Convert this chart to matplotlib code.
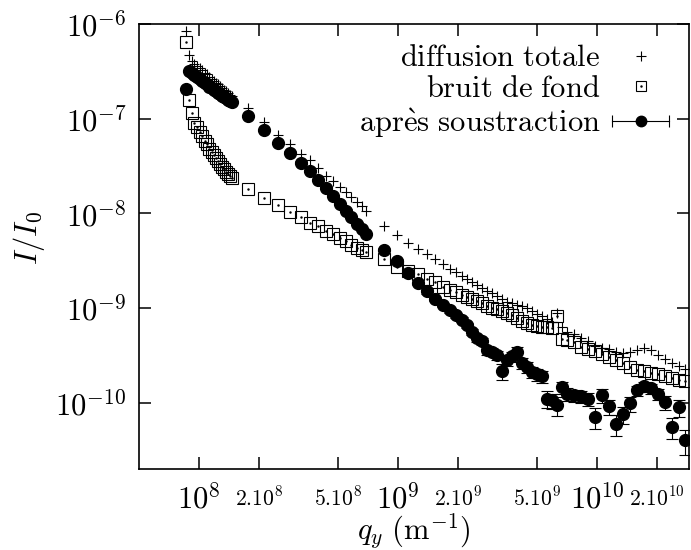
import matplotlib
matplotlib.use('Agg')
import numpy as np
import matplotlib.pyplot as plt
from matplotlib.lines import Line2D
from matplotlib.legend_handler import HandlerLine2D, HandlerTuple
from matplotlib.ticker import NullLocator

plt.rcParams['mathtext.fontset'] = 'cm'
plt.rcParams['font.family'] = ['serif']
plt.rcParams['font.serif'] = ['cmr10', 'DejaVu Serif']

# ---------------- data ----------------
q_y = [
    0.86e8, 0.89e8, 0.92e8, 0.95e8, 0.98e8, 1.01e8, 1.04e8, 1.07e8, 1.10e8, 1.13e8,
    1.16e8, 1.19e8, 1.22e8, 1.25e8, 1.28e8, 1.31e8, 1.34e8, 1.37e8, 1.40e8, 1.43e8, 1.46e8,
    1.76e8, 2.13e8, 2.50e8, 2.87e8, 3.24e8, 3.61e8, 3.98e8, 4.35e8, 4.72e8, 5.09e8,
    5.46e8, 5.83e8, 6.20e8, 6.57e8, 6.94e8,
    8.50e8, 9.89e8, 1.123e9, 1.260e9, 1.398e9, 1.534e9, 1.683e9, 1.825e9, 1.956e9, 2.097e9,
    2.222e9, 2.354e9, 2.495e9, 2.643e9, 2.801e9, 2.968e9, 3.144e9, 3.332e9, 3.530e9, 3.741e9,
    3.963e9, 4.199e9, 4.449e9, 4.715e9, 4.995e9, 5.292e9, 5.607e9, 5.941e9, 6.295e9, 6.670e9,
    7.067e9, 7.662e9, 8.310e9, 9.012e9, 9.770e9, 1.060e10, 1.149e10, 1.246e10, 1.351e10, 1.465e10,
    1.589e10, 1.723e10, 1.868e10, 2.026e10, 2.197e10, 2.382e10, 2.583e10, 2.768e10,
]

diffusion_totale = [
    8.43e-7, 4.70e-7, 4.06e-7, 3.82e-7, 3.64e-7, 3.43e-7, 3.26e-7, 3.07e-7, 2.93e-7, 2.75e-7,
    2.65e-7, 2.53e-7, 2.41e-7, 2.32e-7, 2.21e-7, 2.11e-7, 2.03e-7, 1.96e-7, 1.87e-7, 1.80e-7, 1.73e-7,
    1.285e-7, 9.27e-8, 6.71e-8, 5.39e-8, 4.28e-8, 3.65e-8, 3.00e-8, 2.50e-8, 2.19e-8, 1.89e-8,
    1.68e-8, 1.50e-8, 1.33e-8, 1.19e-8, 1.055e-8,
    7.32e-9, 5.88e-9, 4.90e-9, 4.18e-9, 3.70e-9, 3.28e-9, 2.90e-9, 2.60e-9, 2.39e-9, 2.17e-9,
    2.02e-9, 1.87e-9, 1.74e-9, 1.62e-9, 1.52e-9, 1.43e-9, 1.35e-9, 1.25e-9, 1.166e-9, 1.124e-9,
    1.084e-9, 1.045e-9, 9.95e-10, 9.25e-10, 8.60e-10, 8.19e-10, 7.71e-10, 7.08e-10, 8.88e-10, 6.27e-10,
    5.62e-10, 5.28e-10, 4.85e-10, 4.46e-10, 4.00e-10, 3.80e-10, 3.67e-10, 3.45e-10, 3.33e-10, 3.45e-10,
    3.58e-10, 3.80e-10, 3.58e-10, 3.17e-10, 2.88e-10, 2.64e-10, 2.43e-10, 2.25e-10,
]

bruit_de_fond = [
    6.45e-7, 1.57e-7, 1.15e-7, 8.98e-8, 8.15e-8, 7.22e-8, 6.55e-8, 5.80e-8, 5.39e-8, 4.77e-8,
    4.44e-8, 4.12e-8, 3.83e-8, 3.56e-8, 3.31e-8, 3.12e-8, 2.93e-8, 2.76e-8, 2.60e-8, 2.47e-8, 2.36e-8,
    1.80e-8, 1.465e-8, 1.22e-8, 1.037e-8, 9.18e-9, 8.01e-9, 7.32e-9, 6.53e-9, 6.03e-9, 5.53e-9,
    5.08e-9, 4.61e-9, 4.32e-9, 4.08e-9, 3.92e-9,
    3.32e-9, 2.70e-9, 2.45e-9, 2.28e-9, 2.04e-9, 1.87e-9, 1.68e-9, 1.56e-9, 1.47e-9, 1.37e-9,
    1.30e-9, 1.24e-9, 1.19e-9, 1.14e-9, 1.045e-9, 1.007e-9, 9.83e-10, 9.36e-10, 8.92e-10, 8.39e-10,
    7.90e-10, 7.34e-10, 7.00e-10, 6.66e-10, 6.42e-10, 6.34e-10, 6.27e-10, 6.12e-10, 8.25e-10, 4.68e-10,
    4.62e-10, 4.35e-10, 3.90e-10, 3.71e-10, 3.49e-10, 3.29e-10, 3.06e-10, 2.84e-10, 2.61e-10, 2.40e-10,
    2.23e-10, 2.15e-10, 2.07e-10, 2.00e-10, 1.92e-10, 1.81e-10, 1.75e-10, 1.72e-10,
]

apres_soustraction = [
    2.06e-7, 3.19e-7, 3.03e-7, 2.89e-7, 2.75e-7, 2.62e-7, 2.53e-7, 2.41e-7, 2.32e-7, 2.18e-7,
    2.11e-7, 2.03e-7, 1.96e-7, 1.89e-7, 1.82e-7, 1.75e-7, 1.69e-7, 1.65e-7, 1.59e-7, 1.55e-7, 1.50e-7,
    1.073e-7, 7.58e-8, 5.56e-8, 4.38e-8, 3.44e-8, 2.79e-8, 2.24e-8, 1.87e-8, 1.52e-8, 1.25e-8,
    1.068e-8, 9.12e-9, 7.82e-9, 6.89e-9, 6.03e-9,
    4.15e-9, 3.16e-9, 2.36e-9, 1.84e-9, 1.50e-9, 1.26e-9, 1.07e-9, 9.48e-10, 8.39e-10, 7.56e-10,
    6.58e-10, 5.59e-10, 4.80e-10, 4.46e-10, 3.58e-10, 3.44e-10, 3.17e-10, 2.16e-10, 2.81e-10, 3.09e-10,
    3.44e-10, 2.63e-10, 2.38e-10, 2.11e-10, 2.00e-10, 1.90e-10, 1.105e-10, 1.06e-10, 9.39e-11, 1.455e-10,
    1.24e-10, 1.197e-10, 1.17e-10, 1.10e-10, 7.01e-11, 1.197e-10, 9.16e-11, 5.91e-11, 7.54e-11, 9.86e-11,
    1.35e-10, 1.49e-10, 1.42e-10, 1.23e-10, 1.01e-10, 5.50e-11, 8.94e-11, 4.00e-11,
]

# relative uncertainty of the subtracted signal
erreur_relative = [
    0.02, 0.02, 0.02, 0.02, 0.02, 0.02, 0.02, 0.02, 0.02, 0.02,
    0.02, 0.02, 0.02, 0.02, 0.02, 0.02, 0.02, 0.02, 0.02, 0.02, 0.02,
    0.03, 0.03, 0.03, 0.03, 0.03, 0.03, 0.03, 0.03, 0.03, 0.03,
    0.03, 0.03, 0.03, 0.03, 0.03,
    0.04, 0.04, 0.04, 0.04, 0.05, 0.05, 0.05, 0.06, 0.06, 0.06,
    0.07, 0.08, 0.08, 0.09, 0.10, 0.10, 0.10, 0.20, 0.12, 0.12,
    0.12, 0.13, 0.13, 0.13, 0.14, 0.14, 0.20, 0.18, 0.22, 0.15,
    0.15, 0.15, 0.15, 0.16, 0.25, 0.16, 0.18, 0.25, 0.20, 0.18,
    0.12, 0.12, 0.12, 0.14, 0.16, 0.25, 0.20, 0.30,
]

major_xticks = [1e8, 1e9, 1e10]
major_xlabels = [r'$10^{8}$', r'$10^{9}$', r'$10^{10}$']
minor_xticks = [2e8, 5e8, 2e9, 5e9, 2e10]
minor_xlabels = [r'$2.10^{8}$', r'$5.10^{8}$', r'$2.10^{9}$', r'$5.10^{9}$', r'$2.10^{10}$']
yticks = [1e-10, 1e-9, 1e-8, 1e-7, 1e-6]
ylabels = [r'$10^{-10}$', r'$10^{-9}$', r'$10^{-8}$', r'$10^{-7}$', r'$10^{-6}$']

labels = [r'$\mathrm{diffusion\ totale}$', r'$\mathrm{bruit\ de\ fond}$',
          r'$\mathrm{apr\grave{e}s\ soustraction}$']

# ---------------- figure ----------------
W, H = 691, 550
fig = plt.figure(figsize=(W / 100, H / 100), dpi=100)
ax = fig.add_axes([139 / W, 1 - 469 / H, 550 / W, 445 / H])
ax.set_xscale('log')
ax.set_yscale('log')

q = np.array(q_y)
tot = np.array(diffusion_totale)
bg = np.array(bruit_de_fond)
sub = np.array(apres_soustraction)
err = sub * np.array(erreur_relative)

ax.plot(q, tot, ls='none', marker='+', ms=7.5, mew=0.8, color='k', zorder=3)
ax.plot(q, bg, ls='none', marker='s', ms=8.2, mew=0.8, mfc='none', mec='k', zorder=2)
ax.plot(q, bg, ls='none', marker='.', ms=1.5, color='k', zorder=2)
ax.errorbar(q, sub, yerr=err, fmt='o', ms=8.5, color='k', ecolor='k',
            elinewidth=0.8, capsize=4.5, capthick=0.8, zorder=4)

ax.set_xlim(5e7, 2.9e10)
ax.set_ylim(2e-11, 1e-6)

ax.set_xticks(major_xticks)
ax.set_xticklabels(major_xlabels, fontsize=22)
ax.set_xticks(minor_xticks, minor=True)
ax.set_xticklabels(minor_xlabels, minor=True, fontsize=15.5)
ax.set_yticks(yticks)
ax.set_yticklabels(ylabels, fontsize=22)
ax.yaxis.set_minor_locator(NullLocator())

ax.tick_params(which='both', direction='in', length=8.6, width=1.1,
               top=True, right=True)
ax.tick_params(axis='x', which='major', pad=10)
ax.tick_params(axis='x', which='minor', pad=12)
ax.tick_params(axis='y', which='both', pad=9)
for s in ax.spines.values():
    s.set_linewidth(1.2)

ax.set_xlabel(r'$q_y\ (\mathrm{m}^{-1})$', fontsize=22)
ax.set_ylabel(r'$I/I_0$', fontsize=22)
ax.xaxis.set_label_coords(0.5, -(511 - 469) / 445)
ax.yaxis.set_label_coords(-(139 - 47) / 550, (469 - 238) / 445)

# legend
h_tot = Line2D([], [], ls='none', marker='+', ms=7, mew=0.8, color='k')
h_bg_sq = Line2D([], [], ls='none', marker='s', ms=6.5, mew=0.8, mfc='none', mec='k')
h_bg_dot = Line2D([], [], ls='none', marker='.', ms=1.5, color='k')
h_caps = Line2D([], [], color='k', lw=0.8, marker='|', ms=9, mew=0.8)
h_dot = Line2D([], [], ls='none', marker='o', ms=7.5, color='k')
leg = ax.legend([h_tot, (h_bg_sq, h_bg_dot), (h_caps, h_dot)], labels,
                loc='upper right', bbox_to_anchor=((669 - 139) / 550, (469 - 45) / 445),
                frameon=False, markerfirst=False, fontsize=22,
                handlelength=1.85, handletextpad=0.4, labelspacing=0.1,
                borderpad=0, borderaxespad=0,
                handler_map={h_caps: HandlerLine2D(numpoints=2, marker_pad=0),
                             tuple: HandlerTuple(ndivide=1, pad=0)})

fig.savefig('out.png', dpi=100)
